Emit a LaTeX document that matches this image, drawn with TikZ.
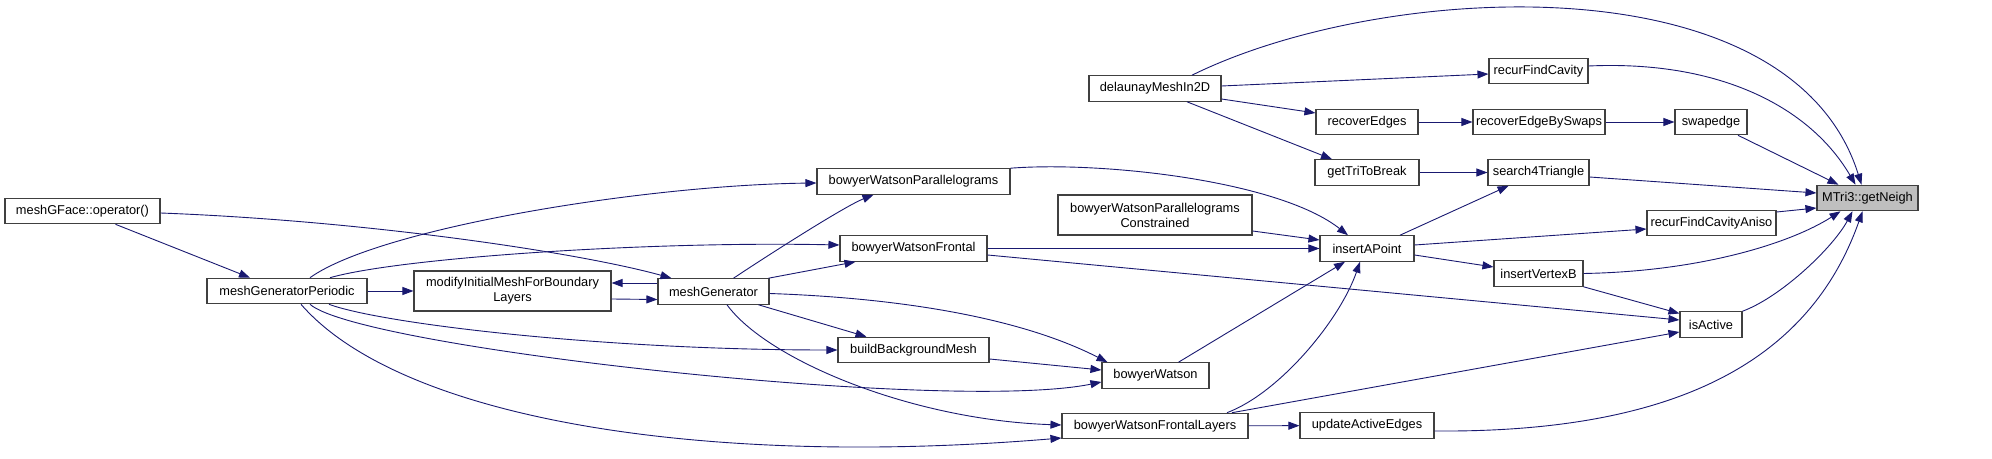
\documentclass[tikz,border=0pt]{standalone}
\usepackage{fontspec}
\usepackage{xcolor}
\usepackage{tikz}
\usetikzlibrary{arrows.meta}
\newfontfamily\graphfont{Liberation Sans}
\definecolor{callblue}{HTML}{191970}
\definecolor{boxline}{HTML}{404040}
\definecolor{hitgray}{HTML}{BFBFBF}
\tikzset{
  fn/.style={draw=boxline,line width=1.1pt,fill=white,minimum height=25.5pt,inner sep=2pt,align=center,
    font=\graphfont\fontsize{12.8}{15}\selectfont},
  fntwo/.style={fn,minimum height=40pt},
  call/.style={-{Triangle[length=11pt,width=8pt]},line width=0.9pt,callblue}
}
\begin{document}
\begin{tikzpicture}[x=1pt,y=1pt]
\useasboundingbox (0,0) rectangle (1992,458);
\node[fn,minimum width=155] (gface) at (82.5,247) {meshGFace::operator()};
\node[fn,minimum width=160] (mgp) at (287,167) {meshGeneratorPeriodic};
\node[fntwo,minimum width=197] (modify) at (512.5,167) {modifyInitialMeshForBoundary\\Layers};
\node[fn,minimum width=111] (mg) at (713.5,166.5) {meshGenerator};
\node[fn,minimum width=193] (bwp) at (913.5,276.5) {bowyerWatsonParallelograms};
\node[fn,minimum width=147] (bwf) at (913.5,209.5) {bowyerWatsonFrontal};
\node[fn,minimum width=151] (bbm) at (913.5,108) {buildBackgroundMesh};
\node[fn,minimum width=132] (dm2d) at (1155,369.5) {delaunayMeshIn2D};
\node[fntwo,minimum width=194] (bwpc) at (1155,243) {bowyerWatsonParallelograms\\Constrained};
\node[fn,minimum width=107] (bw) at (1155.5,82.5) {bowyerWatson};
\node[fn,minimum width=186] (bwfl) at (1155,32) {bowyerWatsonFrontalLayers};
\node[fn,minimum width=102] (recE) at (1367,336) {recoverEdges};
\node[fn,minimum width=104] (gttb) at (1367,285.5) {getTriToBreak};
\node[fn,minimum width=94] (iap) at (1367,209.5) {insertAPoint};
\node[fn,minimum width=134] (uae) at (1367,32.5) {updateActiveEdges};
\node[fn,minimum width=99] (rfc) at (1538.5,387) {recurFindCavity};
\node[fn,minimum width=132] (rebs) at (1539,336) {recoverEdgeBySwaps};
\node[fn,minimum width=101] (s4t) at (1538.5,285.5) {search4Triangle};
\node[fn,minimum width=89] (ivb) at (1538.5,184.5) {insertVertexB};
\node[fn,minimum width=72] (swap) at (1711,336) {swapedge};
\node[fn,minimum width=129] (rfca) at (1711.5,235) {recurFindCavityAniso};
\node[fn,minimum width=62] (isact) at (1711,133.5) {isActive};
\node[fn,fill=hitgray,minimum width=101] (neigh) at (1867.5,260) {MTri3::getNeigh};
\draw[call] ([xshift=33]gface.south) -- ([xshift=-37]mgp.north);
\draw[call] ([yshift=-2]gface.east) .. controls +(210,-8) and +(-90,25) .. ([xshift=-42]mg.north);
\draw[call] (mgp) -- (modify);
\draw[call] ([yshift=-8]modify.east) -- ([yshift=-8]mg.west);
\draw[call] ([yshift=8.5]mg.west) -- ([yshift=8]modify.east);
\draw[call] ([xshift=23]mgp.north) .. controls +(70,50) and +(-170,-2) .. ([yshift=-1.5]bwp.west);
\draw[call] ([xshift=43]mgp.north) .. controls +(70,20) and +(-190,4) .. ([yshift=3.5]bwf.west);
\draw[call] ([xshift=20]mg.north) .. controls +(30,20) and +(-30,-12) .. ([xshift=-40]bwp.south);
\draw[call] ([xshift=-1]mg.north east) -- ([xshift=-58]bwf.south);
\draw[call] ([xshift=45]mg.south) -- ([xshift=-47]bbm.north);
\draw[call] ([yshift=-2]mg.east) .. controls +(131,-4.5) and +(-87,44.5) .. ([xshift=-48]bw.north);
\draw[call] ([xshift=13.5]mg.south) .. controls +(40,-55) and +(-150,5) .. ([yshift=1]bwfl.west);
\draw[call] ([xshift=42]mgp.south) .. controls +(51,-19) and +(-238,0) .. (bbm.west);
\draw[call] ([xshift=23]mgp.south) .. controls +(50,-44) and +(-152,-31) .. ([yshift=-6.5]bw.west);
\draw[call] ([xshift=14]mgp.south) .. controls +(99,-114) and +(-362,-30) .. ([yshift=-12]bwfl.west);
\draw[call] ([yshift=-9]bbm.east) -- ([yshift=5.5]bw.west);
\draw[call] (bwp.north east) .. controls +(90,7) and +(-70,55) .. ([xshift=-19]iap.north);
\draw[call] ([yshift=-16]bwpc.east) -- ([yshift=8.5]iap.west);
\draw[call] (bwf) -- (iap);
\draw[call] ([yshift=-6.5]bwf.east) -- ([yshift=4.5]isact.west);
\draw[call] ([xshift=23]bw.north) -- ([xshift=-22]iap.south);
\draw[call] ([xshift=72]bwfl.north) .. controls +(53,20) and +(-20,-58) .. ([xshift=-7]iap.south);
\draw[call] ([xshift=77]bwfl.north) -- ([yshift=-7.5]isact.west);
\draw[call] (bwfl) -- (uae);
\draw[call] ([xshift=37]dm2d.north) .. controls +(188,93) and +(-71,227) .. ([xshift=-6]neigh.north);
\draw[call] ([yshift=2.5]dm2d.east) -- ([yshift=-3]rfc.west);
\draw[call] ([yshift=-10.5]dm2d.east) -- ([yshift=9]recE.west);
\draw[call] ([xshift=32]dm2d.south) -- ([xshift=-35]gttb.north);
\draw[call] (recE) -- (rebs);
\draw[call] (gttb) -- (s4t);
\draw[call] ([xshift=33]iap.north) -- ([xshift=-30]s4t.south);
\draw[call] ([yshift=3.5]iap.east) -- ([yshift=-6]rfca.west);
\draw[call] ([yshift=-6.5]iap.east) -- ([yshift=6.5]ivb.west);
\draw[call] ([yshift=5]rfc.east) .. controls +(132,6) and +(-45,77) .. ([xshift=-12]neigh.north);
\draw[call] (rebs) -- (swap);
\draw[call] ([xshift=27]swap.south) -- ([xshift=-29]neigh.north);
\draw[call] ([yshift=-4.5]s4t.east) -- ([yshift=5]neigh.west);
\draw[call] ([yshift=11]rfca.east) -- ([yshift=-10]neigh.west);
\draw[call] (ivb.east) .. controls +(117,2) and +(-50,-32) .. ([xshift=-27]neigh.south);
\draw[call] (ivb.south east) -- ([yshift=11]isact.west);
\draw[call] (isact.north east) .. controls +(38,14) and +(-20,-37) .. ([xshift=-15]neigh.south);
\draw[call] ([yshift=-5.5]uae.east) .. controls +(246,-2) and +(-52,-147) .. ([xshift=-5]neigh.south);
\end{tikzpicture}
\end{document}
